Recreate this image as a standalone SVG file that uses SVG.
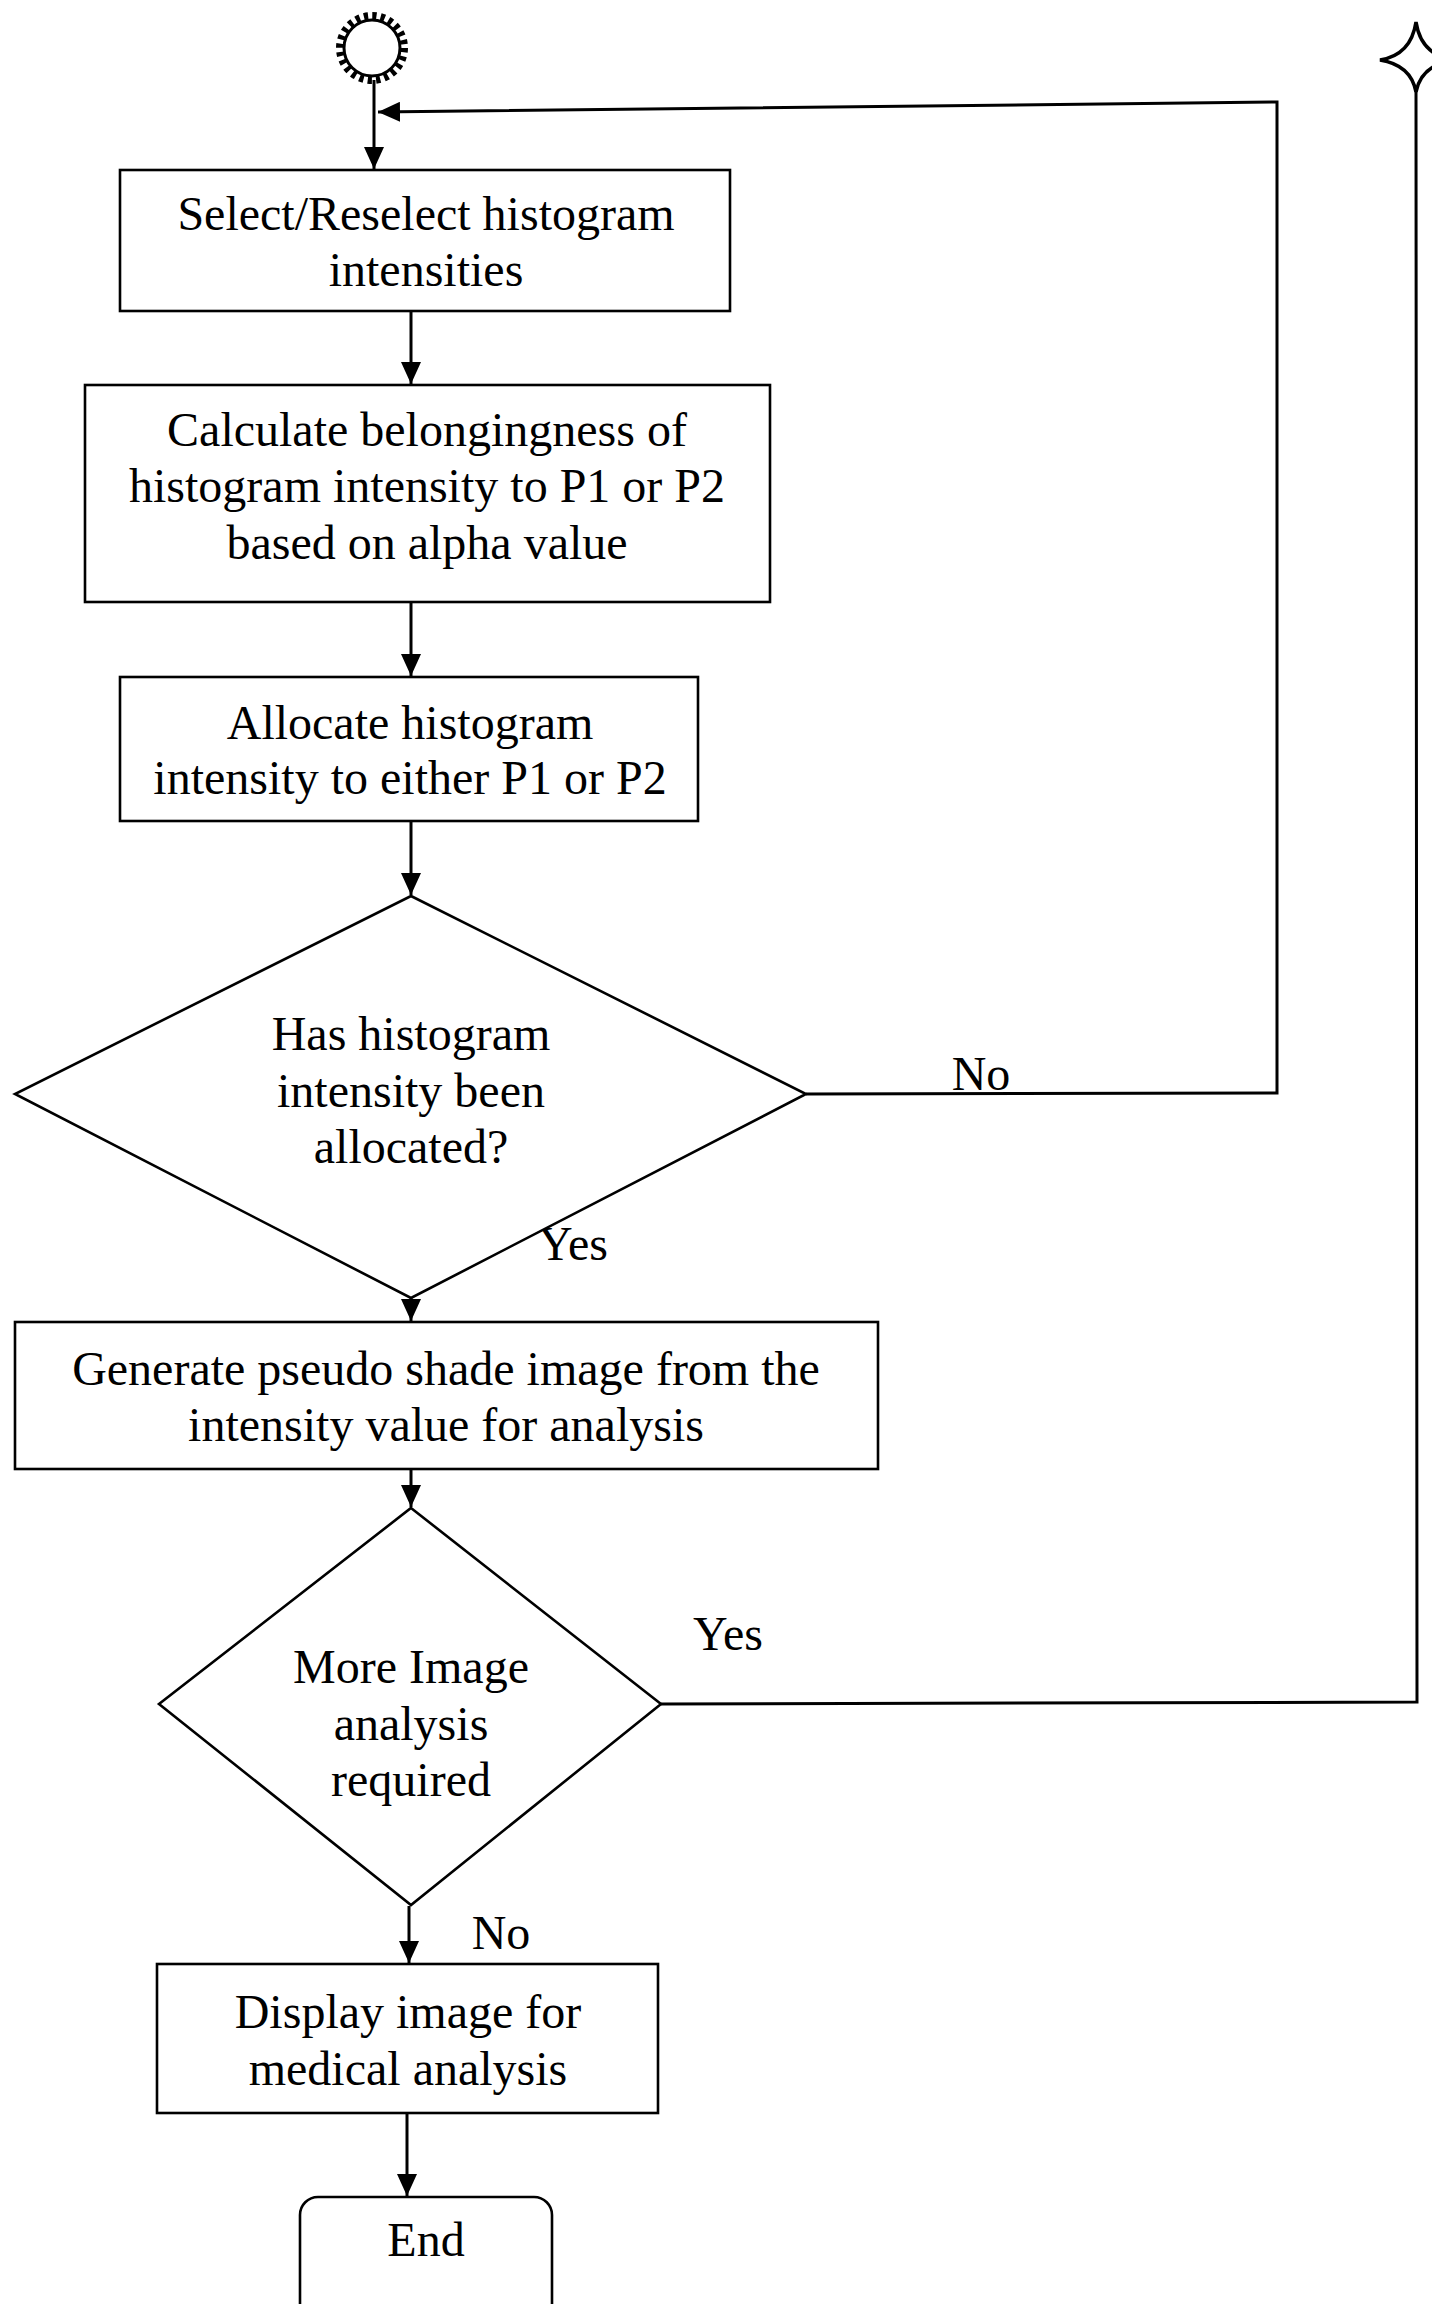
<svg xmlns="http://www.w3.org/2000/svg" width="1432" height="2304" viewBox="0 0 1432 2304">
<defs>
<marker id="ah" markerWidth="22" markerHeight="20" refX="22" refY="10" orient="auto" markerUnits="userSpaceOnUse">
<path d="M0,0 L22,10 L0,20 Z" fill="#000"/>
</marker>
<style>
.n{fill:#fff;stroke:#000;stroke-width:2.6}
.t{font-family:"Liberation Serif","Times New Roman",serif;font-size:48px;fill:#000;text-anchor:middle}
.c{fill:none;stroke:#000;stroke-width:3}
</style>
</defs>
<rect width="1432" height="2304" fill="#fff"/>
<g id="connectors">
<line class="c" x1="374" y1="80" x2="374" y2="169" marker-end="url(#ah)"/>
<polyline class="c" points="806,1094 1277,1093 1277,102 378,112" marker-end="url(#ah)"/>
<line class="c" x1="411" y1="311" x2="411" y2="384" marker-end="url(#ah)"/>
<line class="c" x1="411" y1="602" x2="411" y2="676" marker-end="url(#ah)"/>
<line class="c" x1="411" y1="821" x2="411" y2="895" marker-end="url(#ah)"/>
<line class="c" x1="411" y1="1298" x2="411" y2="1321" marker-end="url(#ah)"/>
<line class="c" x1="411" y1="1469" x2="411" y2="1507" marker-end="url(#ah)"/>
<polyline class="c" points="661,1704 1417,1702 1416,88"/>
<line class="c" x1="409" y1="1906" x2="409" y2="1963" marker-end="url(#ah)"/>
<line class="c" x1="407" y1="2113" x2="407" y2="2196" marker-end="url(#ah)"/>
<text class="t" x="981" y="1090">No</text>
<text class="t" x="573" y="1260">Yes</text>
<text class="t" x="728" y="1650">Yes</text>
<text class="t" x="501" y="1949">No</text>
</g>
<g id="start">
<circle cx="372" cy="48" r="32" fill="none" stroke="#000" stroke-width="8" stroke-dasharray="4.2 4.18"/>
<circle cx="372" cy="48" r="28" fill="#fff" stroke="#000" stroke-width="3"/>
</g>
<g id="offpage">
<path d="M1416,22 Q1421,55 1454,60 Q1421,65 1416,92 Q1411,65 1380,60 Q1411,55 1416,22 Z" fill="#fff" stroke="#000" stroke-width="3.5"/>
</g>
<g id="box1">
<rect class="n" x="120" y="170" width="610" height="141"/>
<text class="t" x="426" y="230">Select/Reselect histogram</text>
<text class="t" x="426" y="286">intensities</text>
</g>
<g id="box2">
<rect class="n" x="85" y="385" width="685" height="217"/>
<text class="t" x="427" y="446">Calculate belongingness of</text>
<text class="t" x="427" y="502">histogram intensity to P1 or P2</text>
<text class="t" x="427" y="559">based on alpha value</text>
</g>
<g id="box3">
<rect class="n" x="120" y="677" width="578" height="144"/>
<text class="t" x="410" y="739">Allocate histogram</text>
<text class="t" x="410" y="794">intensity to either P1 or P2</text>
</g>
<g id="decision1">
<polygon class="n" points="411,896 806,1094 411,1298 15,1094"/>
<text class="t" x="411" y="1050">Has histogram</text>
<text class="t" x="411" y="1107">intensity been</text>
<text class="t" x="411" y="1163">allocated?</text>
</g>
<g id="box4">
<rect class="n" x="15" y="1322" width="863" height="147"/>
<text class="t" x="446" y="1385">Generate pseudo shade image from the</text>
<text class="t" x="446" y="1441">intensity value for analysis</text>
</g>
<g id="decision2">
<polygon class="n" points="411,1508 661,1704 411,1905 159,1704"/>
<text class="t" x="411" y="1683">More Image</text>
<text class="t" x="411" y="1740">analysis</text>
<text class="t" x="411" y="1796">required</text>
</g>
<g id="box5">
<rect class="n" x="157" y="1964" width="501" height="149"/>
<text class="t" x="408" y="2028">Display image for</text>
<text class="t" x="408" y="2085">medical analysis</text>
</g>
<g id="end">
<rect class="n" x="300" y="2197" width="252" height="130" rx="18"/>
<text class="t" x="426" y="2256">End</text>
</g>
</svg>
